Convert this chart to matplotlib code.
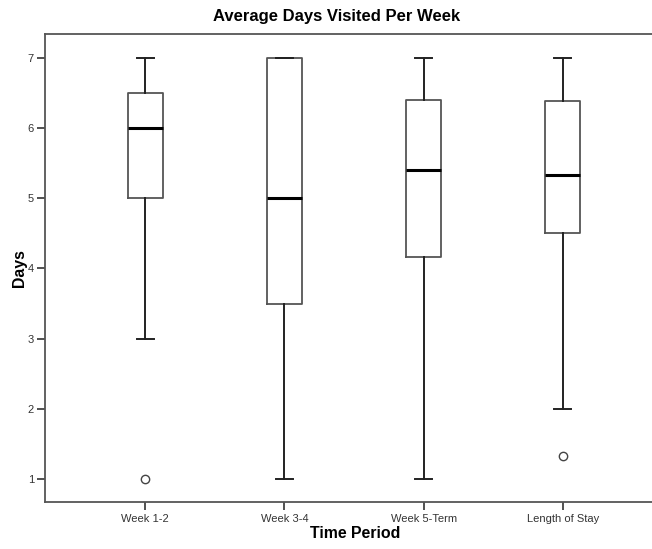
import matplotlib
matplotlib.use("Agg")
import matplotlib.pyplot as plt

categories = ["Week 1-2", "Week 3-4", "Week 5-Term", "Length of Stay"]
whislo = [3.0, 1.0, 1.0, 2.0]
q1 = [5.0, 3.5, 4.17, 4.5]
med = [6.0, 5.0, 5.4, 5.33]
q3 = [6.5, 7.0, 6.4, 6.38]
whishi = [7.0, 7.0, 7.0, 7.0]
outliers = [[1.0], [], [], [1.33]]
yticks = [1, 2, 3, 4, 5, 6, 7]

plt.rcParams['font.family'] = ['Liberation Sans', 'DejaVu Sans']

fig = plt.figure(figsize=(6.52, 5.49), dpi=100)
ax = fig.add_axes([45/652, 1 - 502/549, 1 - 45/652, (502 - 34)/549])

stats = []
for i, c in enumerate(categories):
    stats.append(dict(label=c, whislo=whislo[i], q1=q1[i], med=med[i],
                      q3=q3[i], whishi=whishi[i], fliers=outliers[i]))

positions = list(range(1, len(categories) + 1))
ax.bxp(stats, positions=positions, widths=0.25, showfliers=True,
       boxprops=dict(color="#555555", linewidth=1.3),
       whiskerprops=dict(color="#222222", linewidth=1.4),
       capprops=dict(color="#222222", linewidth=1.4),
       medianprops=dict(color="black", linewidth=2.2),
       flierprops=dict(marker="o", markerfacecolor="white", markeredgecolor="#444444",
                       markersize=6, markeredgewidth=1.0),
       capwidths=0.12)

ax.set_xlim(1 - 100/139, 4 + 89/139)
ax.set_ylim(1 - 23/70.2, 7 + 24/70.2)
ax.set_yticks(yticks)
ax.set_yticklabels([str(v) for v in yticks])
ax.set_xticks(positions)
ax.set_xticklabels(categories)
ax.tick_params(axis="both", labelsize=8, colors="#333333", length=6, width=1.2, direction="out")
ax.tick_params(axis="y", pad=2)
ax.tick_params(axis="x", pad=3)

ax.spines["right"].set_visible(False)
for s in ["left", "top", "bottom"]:
    ax.spines[s].set_color("#555555")
    ax.spines[s].set_linewidth(1.3)

fig.text(337/652, 1 - 16/549, "Average Days Visited Per Week", ha="center", va="center",
         fontsize=12, fontweight="bold")
fig.text(355/652, 1 - 534/549, "Time Period", ha="center", va="center",
         fontsize=11.4, fontweight="bold")
fig.text(20/652, 1 - 268/549, "Days", ha="center", va="center", rotation=90,
         fontsize=11.4, fontweight="bold")

fig.savefig("out.png", dpi=100)
